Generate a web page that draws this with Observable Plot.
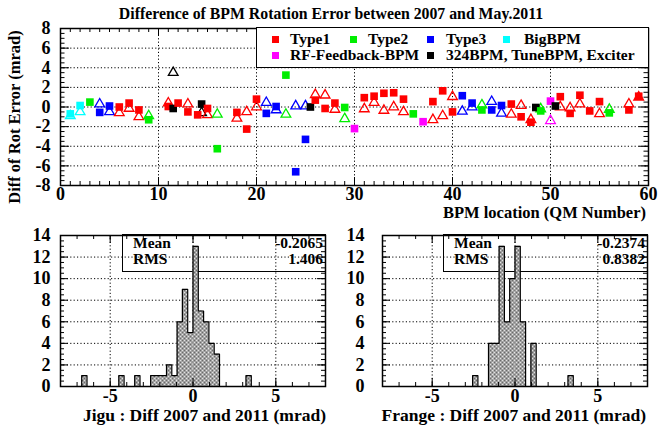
<!DOCTYPE html>
<html><head><meta charset="utf-8">
<script src="https://cdn.jsdelivr.net/npm/d3@7"></script>
<script src="https://cdn.jsdelivr.net/npm/@observablehq/plot@0.6"></script>
<style>
body{margin:0;background:#fff}
#root{position:relative;width:662px;height:425px;overflow:hidden;font-family:"Liberation Serif","Times New Roman",serif;font-weight:bold;color:#000;background:#fff}
.abs{position:absolute;white-space:nowrap;line-height:1}
.box{position:absolute;border:1.5px solid #000;box-sizing:border-box}
.mk{position:absolute;width:7px;height:7px}
svg.plot{position:absolute}
svg.plot text{font-family:"Liberation Serif","Times New Roman",serif !important;font-weight:bold}
</style></head><body>
<svg width="0" height="0" style="position:absolute"><defs>
<pattern id="hatch" width="4" height="4" patternUnits="userSpaceOnUse">
<rect width="4" height="4" fill="#a0a0a0"/><rect x="0" y="0" width="1" height="1" fill="#e2e2e2"/><rect x="2" y="2" width="1" height="1" fill="#e2e2e2"/><rect x="2" y="0" width="1" height="1" fill="#6a6a6a"/><rect x="0" y="2" width="1" height="1" fill="#6a6a6a"/>
</pattern></defs></svg>
<div id="root"></div>
<script>
// ---------- data ----------
const typeKeys   = ["Type1","Type2","Type3","BigBPM","RF","Other"];
const typeLabels = ["Type1","Type2","Type3","BigBPM","RF-Feedback-BPM","324BPM, TuneBPM, Exciter"];
const typeColors = ["#ff0000","#00ee00","#0000ff","#00ffff","#ff00ff","#000000"];

const qm      = [1,2,3,4,5,6,7,8,9,11,11.5,12,13,14,14.4,15,16,18,19,20,21,22,23,24,25,25.5,26,27,28,29,30,31,32,33,34,35,36,37,38,39,40,41,42,43,44,45,46,47,48,48.5,49,50,50.5,51,52,53,54,55,56,58,59];
const bpmType = ["BigBPM","BigBPM","Type2","Type3","Type3","Type1","Type1","Type1","Type2","Type1","Other","Type1","Type1","Type1","Other","Type1","Type2","Type1","Type1","Type1","Type3","Type3","Type2","Type3","Type3","Other","Type1","Type1","Type1","Type2","RF","Type1","Type1","Type1","Type1","Type1","Type2","RF","Type1","Type1","Type1","Type3","Type3","Type2","Type3","Type3","Type1","Type1","Type1","Other","Type2","RF","Other","Type1","Type1","Type1","Type1","Type1","Type2","Type1","Type1"];
const jiguDiff   = [-0.7,0.15,0.5,-0.55,0.1,0.0,0.4,-0.3,-1.3,0.05,-0.15,0.4,-0.5,-0.8,0.3,-0.15,-4.25,-0.55,-2.25,0.8,-0.65,0.05,3.25,-6.6,-3.3,0.0,0.7,-0.15,0.4,-0.05,-2.2,0.95,1.1,1.4,1.45,0.8,-0.7,-1.5,0.55,1.65,-0.5,1.15,0.4,-0.3,-0.3,0.15,0.3,-1.0,-1.55,-0.05,-0.4,0.6,0.1,1.05,-0.65,1.2,-0.4,0.55,-0.6,-0.3,1.1];
const frangeDiff = [-0.9,-0.5,null,0.3,-0.5,-0.6,-0.15,-1.0,-0.9,0.4,3.5,null,0.3,null,-0.6,-0.8,-0.75,-1.15,-0.5,0.0,0.45,-0.3,-0.75,0.1,0.1,null,1.25,1.2,-0.25,-1.2,null,-0.2,0.45,-0.35,0.0,-0.5,null,null,-1.3,-0.9,1.05,-0.45,0.0,0.2,0.55,-0.65,-0.75,0.15,-1.3,null,-0.2,-1.4,null,0.0,-0.1,0.3,null,-0.7,-0.25,0.3,1.0];

const binWidth = 0.32;
const jiguBinLo   = [-6.72,-4.48,-3.52,-2.56,-2.24,-1.92,-1.60,-1.28,-0.96,-0.64,-0.32,0.00,0.32,0.64,0.96,1.28,3.20];
const jiguCount   = [1,1,1,1,1,1,2,1,6,9,5,13,7,6,4,3,1];
const frangeBinLo = [-2.56,-1.60,-1.28,-0.96,-0.64,-0.32,0.00,0.32,0.96,3.20];
const frangeCount = [1,4,4,13,6,10,13,6,4,1];

const stats = {jigu:{mean:"-0.2065", rms:"1.406"}, frange:{mean:"-0.2374", rms:"0.8382"}};

// ---------- helpers ----------
const root = document.getElementById("root");
function addDiv(html, css, cls="abs"){const d=document.createElement("div");d.className=cls;d.style.cssText=css;d.innerHTML=html;root.appendChild(d);return d;}
const fmt = d => String(d);
const S = {stroke:"black", strokeWidth:1};
function frameTicks(fw, fh, xMaj, xMin, yMaj, yMin, xL, yL){
  return [
    Plot.tickX(xMaj,{x:d=>d, insetTop:fh-xL[0], ...S}),
    Plot.tickX(xMaj,{x:d=>d, insetBottom:fh-xL[0], ...S}),
    Plot.tickX(xMin,{x:d=>d, insetTop:fh-xL[1], ...S}),
    Plot.tickX(xMin,{x:d=>d, insetBottom:fh-xL[1], ...S}),
    Plot.tickY(yMaj,{y:d=>d, insetRight:fw-yL[0], ...S}),
    Plot.tickY(yMaj,{y:d=>d, insetLeft:fw-yL[0], ...S}),
    Plot.tickY(yMin,{y:d=>d, insetRight:fw-yL[1], ...S}),
    Plot.tickY(yMin,{y:d=>d, insetLeft:fw-yL[1], ...S})
  ];
}
const baseStyle = {fontFamily:'"Liberation Serif", "Times New Roman", serif', fontWeight:"bold", fontSize:"18px", background:"transparent", color:"black", overflow:"visible"};

// ---------- title ----------
addDiv("Difference of BPM Rotation Error between 2007 and May.2011","left:0;top:6px;width:662px;text-align:center;font-size:15.8px");

// ---------- stats boxes (drawn beneath histograms) ----------
function statBox(x, w, s){
  addDiv("",`left:${x}px;top:234px;width:${w}px;height:38px`,"box");
  addDiv("Mean",`left:${x+11}px;top:235px;font-size:15.5px`);
  addDiv(s.mean,`left:${x}px;width:${w-3}px;text-align:right;top:235px;font-size:15.5px`);
  addDiv("RMS",`left:${x+11}px;top:251px;font-size:15.5px`);
  addDiv(s.rms,`left:${x}px;width:${w-3}px;text-align:right;top:251px;font-size:15.5px`);
}
statBox(122, 204, stats.jigu);
statBox(443, 205, stats.frange);

// ---------- top scatter ----------
const rows = qm.map((q,i)=>({qm:q, type:bpmType[i], jigu:jiguDiff[i], frange:frangeDiff[i]}));
const T = {w:662,h:215,ml:60,mr:14,mt:28,mb:30};
const tfw = T.w-T.ml-T.mr, tfh = T.h-T.mt-T.mb;
const topPlot = Plot.plot({
  width:T.w, height:T.h, marginLeft:T.ml, marginRight:T.mr, marginTop:T.mt, marginBottom:T.mb,
  style:baseStyle,
  x:{domain:[0,60], ticks:[0,10,20,30,40,50,60], tickFormat:fmt, tickSize:0, tickPadding:2, label:null},
  y:{domain:[-8,8], ticks:[-8,-6,-4,-2,0,2,4,6,8], tickFormat:fmt, tickSize:0, tickPadding:10, label:null},
  color:{domain:typeKeys, range:typeColors},
  marks:[
    Plot.ruleX([10,20,30,40,50],{stroke:"black", strokeDasharray:"1.2,2.2", strokeWidth:1}),
    Plot.ruleY([-6,-4,-2,0,2,4,6],{stroke:"black", strokeDasharray:"1.2,2.2", strokeWidth:1}),
    Plot.dot(rows.filter(d=>d.frange!=null),{x:"qm", y:"frange", symbol:"triangle", r:3.6, stroke:"type", fill:"none", strokeWidth:1.3}),
    Plot.dot(rows,{x:"qm", y:"jigu", symbol:"square", r:4.3, fill:"type", stroke:"none"}),
    ...frameTicks(tfw, tfh, d3.range(0,61,10), d3.range(0,61,1), d3.range(-8,9,2), d3.range(-8,8.01,0.5), [8,4], [9,4.5]),
    Plot.frame({stroke:"black", strokeWidth:1.5})
  ]
});
topPlot.classList.add("plot"); topPlot.style.left="0px"; topPlot.style.top="0px";
root.appendChild(topPlot);

addDiv("Diff of Rot Error (mrad)","left:15px;top:117px;font-size:16.5px;transform:translate(-50%,-50%) rotate(-90deg)");
addDiv("BPM location (QM Number)","left:0;width:646px;text-align:right;top:205px;font-size:16.5px");

// legend (opaque, above the grid)
addDiv("","left:256px;top:27px;width:393px;height:41px;background:#fff","box");
const legPos = [[275,39,290],[353,39,368],[430,39,446],[506,39,524],[275,55,290],[430,55,446]];
typeKeys.forEach((k,i)=>{
  const [mx,my,tx]=legPos[i];
  addDiv("",`left:${mx-3.5}px;top:${my-3.5}px;background:${typeColors[i]}`,"mk");
  addDiv(typeLabels[i],`left:${tx}px;top:${my-8}px;font-size:15.5px`);
});

// ---------- histograms ----------
function dense(lo, cnt){
  const m = new Map(lo.map((l,i)=>[Math.round((l+8)/binWidth), cnt[i]]));
  const pts = d3.range(0,50).map(i=>({x:-8+i*binWidth, y:m.get(i)||0}));
  pts.push({x:8,y:0});
  return pts;
}
function hist(lo, cnt, left, ml, mr, pad){
  const H = {w: left===0?330:332, h:181, mt:11, mb:19};
  const fw = H.w-ml-mr, fh = H.h-H.mt-H.mb;
  const bins = lo.map((l,i)=>({x1:l, x2:l+binWidth, n:cnt[i]}));
  const p = Plot.plot({
    width:H.w, height:H.h, marginLeft:ml, marginRight:mr, marginTop:H.mt, marginBottom:H.mb,
    style:baseStyle,
    x:{domain:[-8,8], ticks:[-5,0,5], tickFormat:fmt, tickSize:0, tickPadding:3, label:null},
    y:{domain:[0,14], ticks:[0,2,4,6,8,10,12,14], tickFormat:fmt, tickSize:0, tickPadding:pad, label:null},
    marks:[
      Plot.ruleX([-5,0,5],{stroke:"black", strokeDasharray:"1.2,2.2", strokeWidth:1}),
      Plot.ruleY([2,4,6,8,10,12],{stroke:"black", strokeDasharray:"1.2,2.2", strokeWidth:1}),
      Plot.rectY(bins,{x1:"x1", x2:"x2", y:"n", fill:"url(#hatch)"}),
      Plot.line(dense(lo,cnt),{x:"x", y:"y", curve:"step-after", stroke:"black", strokeWidth:1.2}),
      ...frameTicks(fw, fh, d3.range(-5,6,5), d3.range(-8,9,1), d3.range(0,15,2), d3.range(0,14.01,0.5), [8,4], [8,4]),
      Plot.frame({stroke:"black", strokeWidth:1.5})
    ]
  });
  p.classList.add("plot"); p.style.left=left+"px"; p.style.top="224px";
  root.appendChild(p);
}
hist(jiguBinLo, jiguCount, 0, 60, 5, 10);
hist(frangeBinLo, frangeCount, 330, 52, 15, 18);

addDiv("Jigu : Diff 2007 and 2011 (mrad)","left:0;width:326px;text-align:right;top:407px;font-size:17.5px");
addDiv("Frange : Diff 2007 and 2011 (mrad)","left:0;width:646px;text-align:right;top:407px;font-size:17.5px");
</script>
</body></html>
